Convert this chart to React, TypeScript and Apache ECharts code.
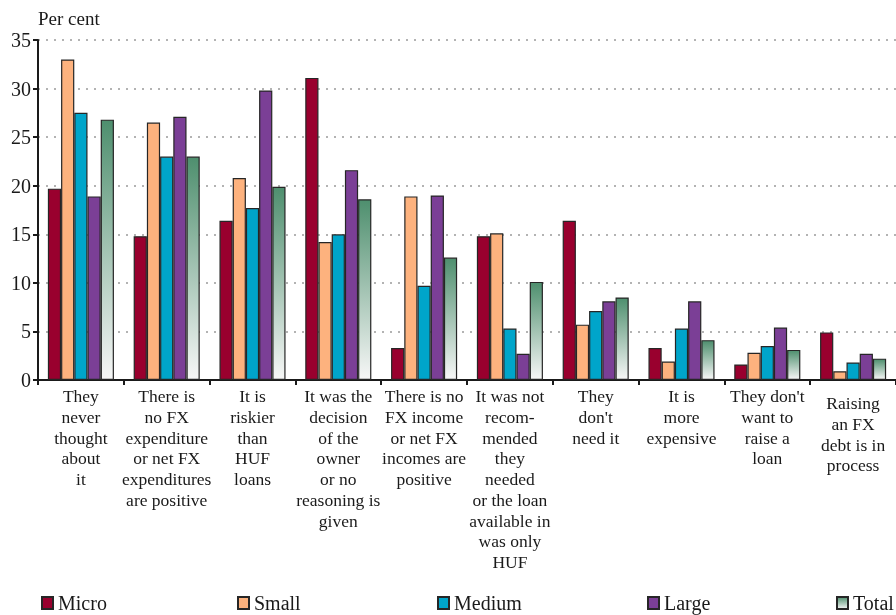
import React, { useEffect, useRef } from "react";
import * as echarts from "echarts";

const categories = [
  "They\nnever\nthought\nabout\nit",
  "There is\nno FX\nexpenditure\nor net FX\nexpenditures\nare positive",
  "It is\nriskier\nthan\nHUF\nloans",
  "It was the\ndecision\nof the\nowner\nor no\nreasoning is\ngiven",
  "There is no\nFX income\nor net FX\nincomes are\npositive",
  "It was not\nrecom-\nmended\nthey\nneeded\nor the loan\navailable in\nwas only\nHUF",
  "They\ndon't\nneed it",
  "It is\nmore\nexpensive",
  "They don't\nwant to\nraise a\nloan",
  "Raising\nan FX\ndebt is in\nprocess",
];

const micro = [19.7, 14.8, 16.4, 31.1, 3.3, 14.8, 16.4, 3.3, 1.6, 4.9];
const small = [33.0, 26.5, 20.8, 14.2, 18.9, 15.1, 5.7, 1.9, 2.8, 0.9];
const medium = [27.5, 23.0, 17.7, 15.0, 9.7, 5.3, 7.1, 5.3, 3.5, 1.8];
const large = [18.9, 27.1, 29.8, 21.6, 19.0, 2.7, 8.1, 8.1, 5.4, 2.7];
const total = [26.8, 23.0, 19.9, 18.6, 12.6, 10.1, 8.5, 4.1, 3.1, 2.2];

const yTicks = { min: 0, max: 35, interval: 5 };

const FONT = "Liberation Serif";

export default function App() {
  const ref = useRef<HTMLDivElement>(null);
  useEffect(() => {
    if (!ref.current) return;
    const chart = echarts.init(ref.current, null, { renderer: "svg" });
    const totalGrad = new echarts.graphic.LinearGradient(0, 0, 0, 1, [
      { offset: 0, color: "#4E8F6E" },
      { offset: 1, color: "#F7F7F7" },
    ]);
    const border = { borderColor: "#262626", borderWidth: 1.2 };
    const mk = (name: string, data: number[], color: any) => ({
      name,
      type: "bar",
      data,
      barGap: "0%",
      barCategoryGap: "23%",
      itemStyle: { color, ...border },
    });
    const legendLefts = [36, 232, 432, 642, 831];
    const names = ["Micro", "Small", "Medium", "Large", "Total"];
    const catData = categories.map((c, i) =>
      i === categories.length - 1
        ? { value: c, textStyle: { padding: [7, 0, 0, 0] } }
        : c
    );
    chart.setOption({
      animation: false,
      textStyle: { fontFamily: FONT },
      grid: { left: 38, right: -9, top: 40, bottom: 235, containLabel: false },
      legend: names.map((n, i) => ({
        data: [n],
        left: legendLefts[i],
        top: 588,
        itemWidth: 11,
        itemHeight: 12,
        itemGap: 4,
        textStyle: { fontFamily: FONT, fontSize: 20, color: "#1a1a1a", padding: [1, 0, 0, 0] },
        icon: "rect",
      })),
      graphic: [
        {
          type: "text",
          left: 38,
          top: 9,
          style: { text: "Per cent", fontFamily: FONT, fontSize: 19, fill: "#1a1a1a" },
        },
      ],
      xAxis: {
        type: "category",
        data: catData,
        boundaryGap: true,
        axisLine: { lineStyle: { color: "#1a1a1a", width: 2 } },
        axisTick: { show: true, length: 5, lineStyle: { color: "#1a1a1a", width: 2 } },
        axisLabel: {
          interval: 0,
          margin: 6,
          fontFamily: FONT,
          fontSize: 17.5,
          lineHeight: 20.7,
          color: "#1a1a1a",
          align: "center",
          verticalAlign: "top",
        },
      },
      yAxis: {
        type: "value",
        min: yTicks.min,
        max: yTicks.max,
        interval: yTicks.interval,
        axisLine: { show: true, lineStyle: { color: "#1a1a1a", width: 2 } },
        axisTick: { show: true, length: 5, lineStyle: { color: "#1a1a1a", width: 2 } },
        axisLabel: { fontFamily: FONT, fontSize: 20, color: "#1a1a1a", margin: 7 },
        splitLine: { lineStyle: { color: "#9a9a9a", type: [2, 6], width: 1.5 } },
      },
      series: [
        mk("Micro", micro, "#99002E"),
        mk("Small", small, "#FDB27E"),
        mk("Medium", medium, "#00A5CA"),
        mk("Large", large, "#7B3F96"),
        mk("Total", total, totalGrad),
      ],
    });
    return () => chart.dispose();
  }, []);
  return (
    <div
      ref={ref}
      style={{ width: 896, height: 615, position: "fixed", left: 0, top: 0 }}
    />
  );
}
